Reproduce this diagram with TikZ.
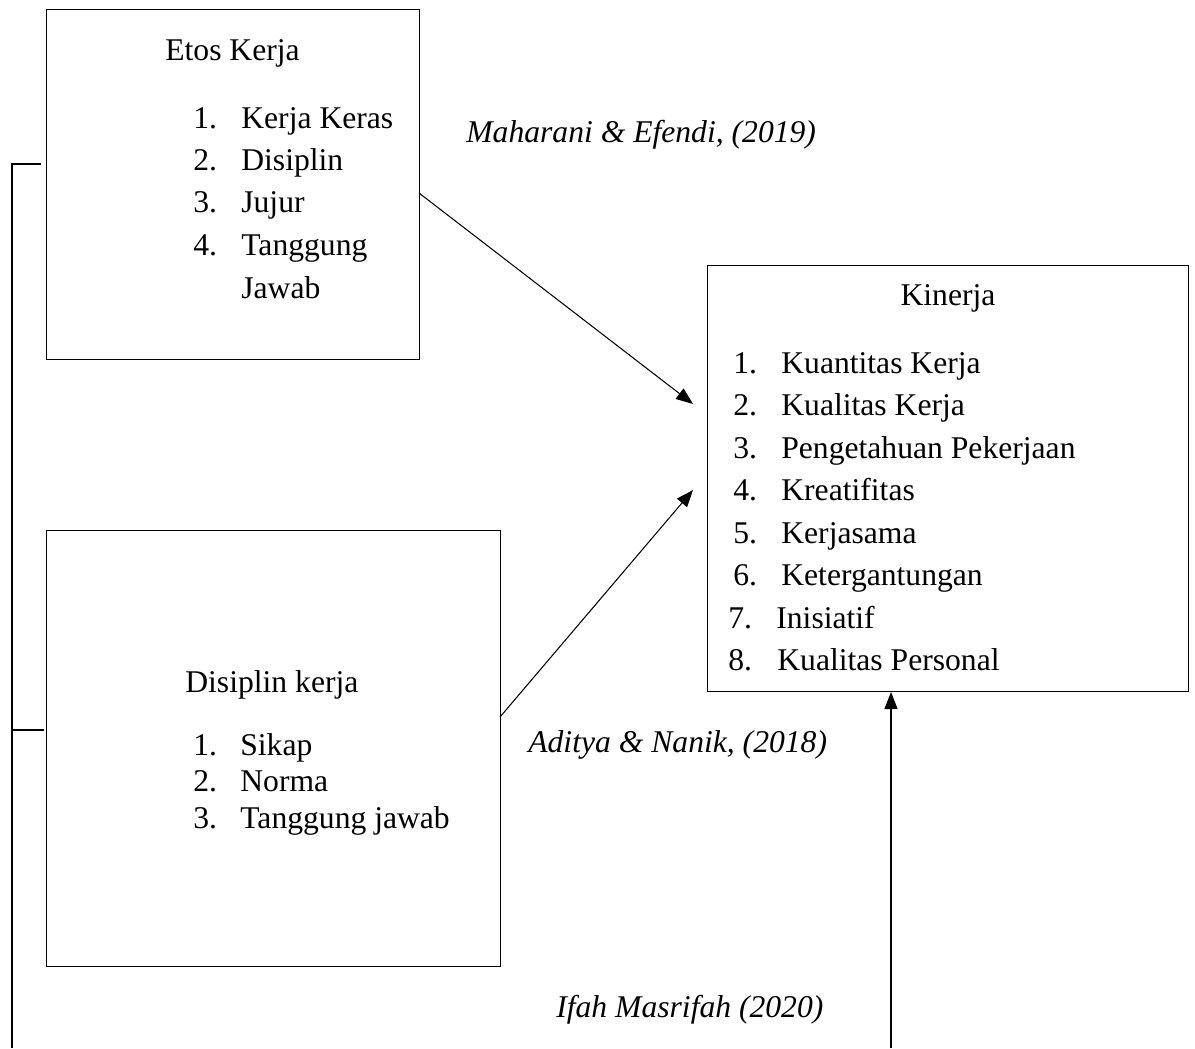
\documentclass[tikz,border=0pt]{standalone}
\usepackage{fontspec}
\setmainfont{Liberation Serif}
\usetikzlibrary{arrows.meta}
\tikzset{
  kotak/.style={draw,line width=0.6pt,rectangle,anchor=north west,inner sep=0pt},
  teks/.style={anchor=base west,inner sep=0pt,font=\fontsize{18}{22}\selectfont},
  sumber/.style={teks,font=\fontsize{18}{22}\selectfont\itshape},
  panah/.style={line width=0.6pt,-{Triangle[length=0.34cm,width=0.26cm]}}
}
\begin{document}
\begin{tikzpicture}[x=0.02cm,y=-0.02cm]
\useasboundingbox (0,0) rectangle (1195,1048);
%boxes
\node[kotak,minimum width=373*0.02cm,minimum height=350*0.02cm] (etos) at (46,9) {};
\node[kotak,minimum width=454*0.02cm,minimum height=436*0.02cm] (dis) at (46,530) {};
\node[kotak,minimum width=481*0.02cm,minimum height=426*0.02cm] (kin) at (707,265) {};
%etos kerja
\node[teks] (etosT) at (165,60) {Etos Kerja};
\foreach \n/\t/\y in {1/Kerja Keras/128,2/Disiplin/170,3/Jujur/212,4/Tanggung/255}{
  \node[teks] (etosN\n) at (193,\y) {\n.};
  \node[teks] (etos\n) at (241,\y) {\t};
}
\node[teks] (etos5) at (241,298) {Jawab};
%disiplin kerja
\node[teks] (disT) at (185,692) {Disiplin kerja};
\foreach \n/\t/\y in {1/Sikap/755,2/Norma/791,3/Tanggung jawab/828}{
  \node[teks] (disN\n) at (193,\y) {\n.};
  \node[teks] (dis\n) at (240,\y) {\t};
}
%kinerja
\node[teks,anchor=base] (kinT) at (948,305) {Kinerja};
\foreach \n/\t/\y in {1/Kuantitas Kerja/373,2/Kualitas Kerja/415,3/Pengetahuan Pekerjaan/458,4/Kreatifitas/500,5/Kerjasama/543,6/Ketergantungan/585}{
  \node[teks] (kinN\n) at (733,\y) {\n.};
  \node[teks] (kin\n) at (781,\y) {\t};
}
\node[teks] (kinN7) at (728,628) {7.};
\node[teks] (kin7) at (776,628) {Inisiatif};
\node[teks] (kinN8) at (728,670) {8.};
\node[teks] (kin8) at (777,670) {Kualitas Personal};
%sources
\node[sumber] (src1) at (466,142) {Maharani \& Efendi, (2019)};
\node[sumber] (src2) at (528,752) {Aditya \& Nanik, (2018)};
\node[sumber] (src3) at (556,1017) {Ifah Masrifah (2020)};
%arrows
\coordinate (a1) at (419,193);
\coordinate (t1) at (693,404);
\coordinate (a2) at (500,717);
\coordinate (t2) at (693,490);
\coordinate (a3) at (891,1048);
\coordinate (t3) at (891,692);
\draw[panah] (a1)--(t1);
\draw[panah] (a2)--(t2);
\draw[panah] (a3)--(t3);
%left line
\coordinate (g1) at (41,164);
\coordinate (g2) at (12,164);
\coordinate (g3) at (12,1048);
\coordinate (g4) at (12,730);
\coordinate (g5) at (44,730);
\draw[line width=0.6pt] (g1)--(g2)--(g3);
\draw[line width=0.6pt] (g4)--(g5);
\end{tikzpicture}
\end{document}
